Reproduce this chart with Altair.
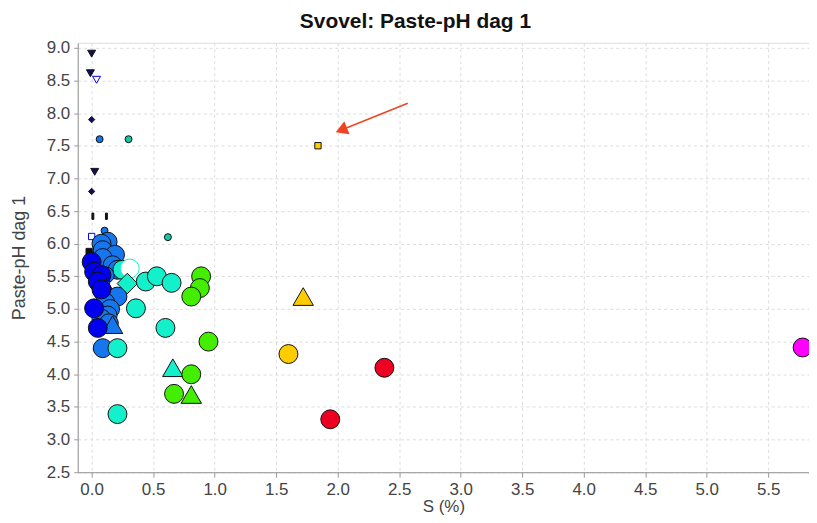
import altair as alt
import pandas as pd

NAVY = "#10105a"
DBLUE = "#0000ee"
BLUE = "#1676ee"
CYAN = "#12f0cc"
TEAL = "#14c8a4"
GREEN = "#44ee00"
YELLOW = "#ffcc00"
RED = "#ee0022"
MAGENTA = "#ff00ff"
BLACK = "#111111"
WHITE = "#ffffff"
BAR = "M-0.3,-1H0.3V1H-0.3Z"

# x = S (%), y = Paste-pH dag 1
xs = [0.00, -0.01, 0.04, 0.00, 0.065, 0.30, 0.025, 0.00, 0.01, 0.12, 0.105, 0.00, 0.62, 1.84, -0.02,
      0.13, 0.08, 0.09, 0.19, 0.09, 0.17, 0.21, 0.12, 0.07, 0.09, 0.21, 0.11, 0.15, 0.13, 0.08, 0.14, 0.09,
      0.17,
      0.00, 0.02, 0.08, 0.05, 0.08, 0.02, 0.05,
      0.25, 0.31, 0.29, 0.44, 0.53, 0.65, 0.36, 0.60, 0.21, 0.21, 0.66,
      0.89, 0.88, 0.81, 0.95, 0.81, 0.67, 0.81,
      1.72, 1.60, 1.94, 2.38, 5.78]
ys = [8.91, 8.61, 8.51, 7.90, 7.60, 7.60, 7.10, 6.80, 6.42, 6.42, 6.20, 6.11, 6.10, 7.50, 5.88,
      6.03, 6.00, 5.90, 5.83, 5.78, 5.67, 5.60, 5.52, 5.40, 5.27, 5.19, 5.10, 5.00, 4.90, 4.85, 4.78, 4.40,
      4.76,
      5.72, 5.57, 5.52, 5.42, 5.30, 5.01, 4.71,
      5.60, 5.62, 5.39, 5.42, 5.50, 5.40, 5.01, 4.71, 4.40, 3.39, 4.10,
      5.50, 5.32, 5.19, 4.50, 4.00, 3.70, 3.69,
      5.19, 4.31, 3.31, 4.10, 4.41]
fills = [NAVY, NAVY, WHITE, NAVY, BLUE, TEAL, NAVY, NAVY, BLACK, BLACK, BLUE, WHITE, TEAL, YELLOW, BLACK] + \
        [BLUE] * 17 + [BLUE] + [DBLUE] * 7 + \
        [CYAN, WHITE, CYAN, CYAN, CYAN, CYAN, CYAN, CYAN, CYAN, CYAN, CYAN] + \
        [GREEN] * 7 + [YELLOW, YELLOW, RED, RED, MAGENTA]
strokes = [BLACK, BLACK, DBLUE, BLACK, BLACK, BLACK, BLACK, BLACK, BLACK, BLACK, BLACK, DBLUE, BLACK, BLACK, BLACK] + \
          [BLACK] * 17 + [BLACK] + [BLACK] * 7 + \
          [BLACK, CYAN] + [BLACK] * 9 + [BLACK] * 7 + [BLACK] * 5
shapes = ["triangle-down", "triangle-down", "triangle-down", "diamond", "circle", "circle", "triangle-down",
          "diamond", BAR, BAR, "circle", "square", "circle", "square", "square"] + \
         ["circle"] * 17 + ["triangle-up"] + ["circle"] * 7 + \
         ["circle", "circle", "diamond", "circle", "circle", "circle", "circle", "circle", "circle", "circle", "triangle-up"] + \
         ["circle", "circle", "circle", "circle", "circle", "circle", "triangle-up"] + \
         ["triangle-up", "circle", "circle", "circle", "circle"]
sizes = [64, 64, 64, 40, 49, 49, 64, 40, 40, 40, 49, 40, 49, 40, 40] + \
        [361] * 7 + [250] + [361] * 9 + [420] + [361] * 7 + \
        [361, 361, 420, 361, 361, 361, 361, 361, 361, 361, 420] + \
        [361, 361, 361, 361, 361, 361, 420] + \
        [420, 361, 361, 361, 361]

# annotation arrow (data units): tail -> head
arrow_x = [2.57, 2.03]
arrow_y = [8.15, 7.74]
arrow_angle = 248

df = pd.DataFrame({"x": xs, "y": ys, "fill": fills, "stroke": strokes,
                   "shape": shapes, "size": sizes, "order": list(range(len(xs)))})
arr = pd.DataFrame({"x": arrow_x, "y": arrow_y})
head = pd.DataFrame({"x": [arrow_x[1]], "y": [arrow_y[1]]})

FONT = "Liberation Sans"
x_ticks = [round(i * 0.5, 1) for i in range(12)]
y_ticks = [round(2.5 + i * 0.5, 1) for i in range(14)]

xscale = alt.Scale(domain=[-0.113, 5.832], nice=False, zero=False)
yscale = alt.Scale(domain=[2.5, 9.076], nice=False, zero=False)

xaxis = alt.Axis(values=x_ticks, format=".1f", grid=True, gridDash=[3, 3],
                 gridColor="#dcdcdc", domainColor="#999999", tickColor="#999999",
                 tickSize=5, labelPadding=4, labelFontSize=17, labelColor="#444444",
                 labelFont=FONT, titleFont=FONT, titleFontSize=17, labelOverlap=False,
                 labelFlush=False, labelBound=False,
                 titleFontWeight="normal", titleColor="#444444", titlePadding=1)
yaxis = alt.Axis(values=y_ticks, format=".1f", grid=True, gridDash=[3, 3],
                 gridColor="#dcdcdc", domainColor="#999999", tickColor="#999999",
                 tickSize=4, labelPadding=4, labelFontSize=17, labelColor="#444444",
                 labelFont=FONT, titleFont=FONT, titleFontSize=18, labelOverlap=False,
                 labelFlush=False, labelBound=False,
                 titleFontWeight="normal", titleColor="#444444", titlePadding=18)


def xenc():
    return alt.X("x:Q", scale=xscale, title="S (%)", axis=xaxis)


def yenc():
    return alt.Y("y:Q", scale=yscale, title="Paste-pH dag 1", axis=yaxis)


points = alt.Chart(df).mark_point(filled=True, opacity=1, strokeWidth=1, clip=False).encode(
    x=xenc(), y=yenc(),
    fill=alt.Fill("fill:N", scale=None),
    stroke=alt.Stroke("stroke:N", scale=None),
    shape=alt.Shape("shape:N", scale=None),
    size=alt.Size("size:Q", scale=None),
    order=alt.Order("order:Q"),
)

line = alt.Chart(arr).mark_line(color="#ee4422", strokeWidth=1.5).encode(x=xenc(), y=yenc())
arrowhead = alt.Chart(head).mark_point(shape="triangle-up", filled=True, color="#ee4422",
                                       size=196, angle=arrow_angle, opacity=1).encode(
    x=xenc(), y=yenc())

chart = alt.layer(points, line, arrowhead).properties(
    width=734, height=431,
    title=alt.TitleParams("Svovel: Paste-pH dag 1", font=FONT, fontSize=21, fontWeight="bold",
                          color="#111111", dx=-28, offset=7),
    autosize=alt.AutoSizeParams(type="none"),
    padding={"left": 70, "top": 34, "right": 0, "bottom": 42},
).configure_view(stroke="#dddddd").configure_axis(labelOverlap=False)

chart.save("out.html", embed_options={"renderer": "svg", "actions": False})
